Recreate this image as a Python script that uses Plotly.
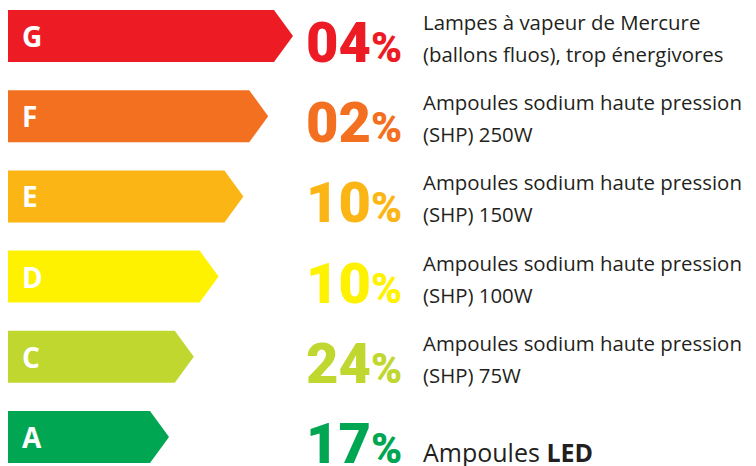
import plotly.graph_objects as go

# ---- data ----
classes = ["G", "F", "E", "D", "C", "A"]
percents = [4, 2, 10, 10, 24, 17]
desc_line1 = [
    "Lampes à vapeur de Mercure",
    "Ampoules sodium haute pression",
    "Ampoules sodium haute pression",
    "Ampoules sodium haute pression",
    "Ampoules sodium haute pression",
    "",
]
desc_line2 = [
    "(ballons fluos), trop énergivores",
    "(SHP) 250W",
    "(SHP) 150W",
    "(SHP) 100W",
    "(SHP) 75W",
    "Ampoules <b>LED</b>",
]
colors = ["#ed1c24", "#f37021", "#fbb615", "#fff200", "#c0d72f", "#00a651"]

# ---- style ----
W, H = 756, 466
row_pitch = 80.2
first_center = 28
x_left = 0
first_end = 266
end_step = 24.8
tip_len = 19
half_h = 26 / row_pitch
text_color = "#231f20"
desc_font = "Open Sans"
num_font = "Roboto"

fig = go.Figure()

for i, (cls, col) in enumerate(zip(classes, colors)):
    end = first_end - end_step * i
    xs = [x_left, end, end + tip_len, end, x_left, x_left]
    ys = [i - half_h, i - half_h, i, i + half_h, i + half_h, i - half_h]
    fig.add_trace(go.Scatter(
        x=xs, y=ys, mode="lines", fill="toself", fillcolor=col,
        line=dict(width=0, color=col), hoverinfo="skip", showlegend=False,
    ))
    # class letter
    fig.add_annotation(
        x=x_left + 12, y=i, xref="x", yref="y", text=f"<b>{cls}</b>",
        showarrow=False, xanchor="left", yanchor="middle", yshift=0,
        font=dict(family=desc_font, size=28, color="white"),
    )
    # percent
    fig.add_annotation(
        x=296, y=i, xref="x", yref="y",
        text=f"{percents[i]:02d}<span style='font-size:42px'>%</span>",
        showarrow=False, xanchor="left", yanchor="middle", yshift=-7,
        font=dict(family=num_font, size=56, color=col, weight=900),
    )
    # descriptions
    if desc_line1[i]:
        fig.add_annotation(
            x=413, y=i, xref="x", yref="y", text=desc_line1[i],
            showarrow=False, xanchor="left", yanchor="middle", yshift=14,
            font=dict(family=desc_font, size=20.4, color=text_color),
        )
        fig.add_annotation(
            x=413, y=i, xref="x", yref="y", text=desc_line2[i],
            showarrow=False, xanchor="left", yanchor="middle", yshift=-18,
            font=dict(family=desc_font, size=20.4, color=text_color),
        )
    else:
        fig.add_annotation(
            x=413, y=i, xref="x", yref="y", text=desc_line2[i],
            showarrow=False, xanchor="left", yanchor="middle", yshift=-15,
            font=dict(family=desc_font, size=25, color=text_color),
        )

y_top = -first_center / row_pitch
y_bot = (H - first_center) / row_pitch
fig.update_layout(
    width=W, height=H,
    margin=dict(l=0, r=0, t=0, b=0),
    paper_bgcolor="white", plot_bgcolor="white",
    xaxis=dict(range=[0, W], visible=False, fixedrange=True),
    yaxis=dict(range=[y_bot, y_top], visible=False, fixedrange=True),
    showlegend=False,
)

fig.write_html("out.html", config={"displayModeBar": False})
